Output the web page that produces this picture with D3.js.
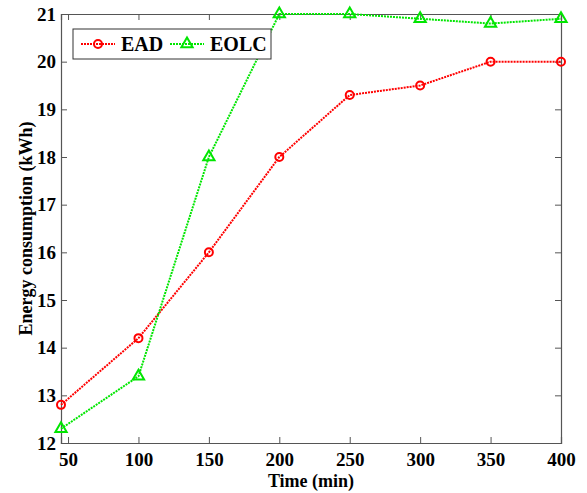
<!DOCTYPE html>
<html>
<head>
<meta charset="utf-8">
<script src="https://cdn.jsdelivr.net/npm/d3@7"></script>
<style>
  body { margin: 0; background: #fff; }
  text { font-family: "Liberation Serif", "Times New Roman", serif; font-weight: bold; fill: #000; }
</style>
</head>
<body>
<div id="chart"></div>
<script>
// data
const times = [45, 100, 150, 200, 250, 300, 350, 400];
const eadValues = [12.8, 14.2, 16, 18, 19.3, 19.5, 20, 20];
const eolcValues = [12.3, 13.4, 18, 21, 21, 20.9, 20.8, 20.9];
const xTicks = [50, 100, 150, 200, 250, 300, 350, 400];
const yTicks = [12, 13, 14, 15, 16, 17, 18, 19, 20, 21];

const width = 587, height = 493;
const margin = { top: 14, right: 26, bottom: 50, left: 61 };
const w = width - margin.left - margin.right;
const h = height - margin.top - margin.bottom;

const svg = d3.select("#chart").append("svg")
    .attr("width", width)
    .attr("height", height);

const g = svg.append("g")
    .attr("transform", `translate(${margin.left},${margin.top})`);

const x = d3.scaleLinear().domain([45, 400]).range([0, w]);
const y = d3.scaleLinear().domain([12, 21]).range([h, 0]);

// axes, ticks pointing inward, mirrored on top/right
const axisColor = "#555";
const axBottom = g.append("g").attr("transform", `translate(0,${h})`)
    .call(d3.axisBottom(x).tickValues(xTicks).tickSize(-6).tickPadding(10));
const axLeft = g.append("g")
    .call(d3.axisLeft(y).tickValues(yTicks).tickSize(-6).tickPadding(5));
const axTop = g.append("g")
    .call(d3.axisTop(x).tickValues(xTicks).tickSize(-6).tickFormat(""));
const axRight = g.append("g").attr("transform", `translate(${w},0)`)
    .call(d3.axisRight(y).tickValues(yTicks).tickSize(-6).tickFormat(""));

[axBottom, axLeft, axTop, axRight].forEach(a => {
    a.select(".domain").attr("stroke", axisColor).attr("stroke-width", 1.2);
    a.selectAll(".tick line").attr("stroke", axisColor);
    a.selectAll(".tick text").style("font-size", "19px").attr("font-weight", "bold");
});

// series
const series = [
    { name: "EAD", values: eadValues, color: "#ff0000", marker: "circle" },
    { name: "EOLC", values: eolcValues, color: "#00e600", marker: "triangle" }
];

const line = d3.line()
    .x(d => x(d[0]))
    .y(d => y(d[1]));

const triangle = d3.symbol().type(d3.symbolTriangle).size(55);

function drawMarker(sel, s) {
    if (s.marker === "circle") {
        sel.append("circle")
            .attr("r", 4)
            .attr("fill", "none")
            .attr("stroke", s.color)
            .attr("stroke-width", 2);
    } else {
        sel.append("path")
            .attr("d", triangle)
            .attr("fill", "none")
            .attr("stroke", s.color)
            .attr("stroke-width", 2);
    }
}

series.forEach(s => {
    const pts = times.map((t, i) => [t, s.values[i]]);
    g.append("path")
        .datum(pts)
        .attr("fill", "none")
        .attr("stroke", s.color)
        .attr("stroke-width", 2)
        .attr("stroke-dasharray", "2,1")
        .attr("d", line);

    pts.forEach(p => {
        const m = g.append("g").attr("transform", `translate(${x(p[0])},${y(p[1])})`);
        drawMarker(m, s);
    });
});

// legend
const legend = svg.append("g").attr("transform", "translate(73,29)");
legend.append("rect")
    .attr("width", 198)
    .attr("height", 30)
    .attr("fill", "#fff")
    .attr("stroke", "#333")
    .attr("stroke-width", 1);

const legendX = [8, 97];
series.forEach((s, i) => {
    const lg = legend.append("g").attr("transform", `translate(${legendX[i]},15)`);
    lg.append("line")
        .attr("x1", 0).attr("x2", 34)
        .attr("stroke", s.color)
        .attr("stroke-width", 2)
        .attr("stroke-dasharray", "2,1");
    const m = lg.append("g").attr("transform", "translate(17,0)");
    drawMarker(m, s);
    lg.append("text")
        .attr("x", 40)
        .attr("y", 7)
        .style("font-size", "20px")
        .text(s.name);
});

// axis labels
svg.append("text")
    .attr("x", margin.left + w / 2)
    .attr("y", 487)
    .attr("text-anchor", "middle")
    .style("font-size", "18px")
    .text("Time (min)");

svg.append("text")
    .attr("transform", `translate(32,${margin.top + h / 2}) rotate(-90)`)
    .attr("text-anchor", "middle")
    .style("font-size", "18px")
    .text("Energy consumption (kWh)");
</script>
</body>
</html>
